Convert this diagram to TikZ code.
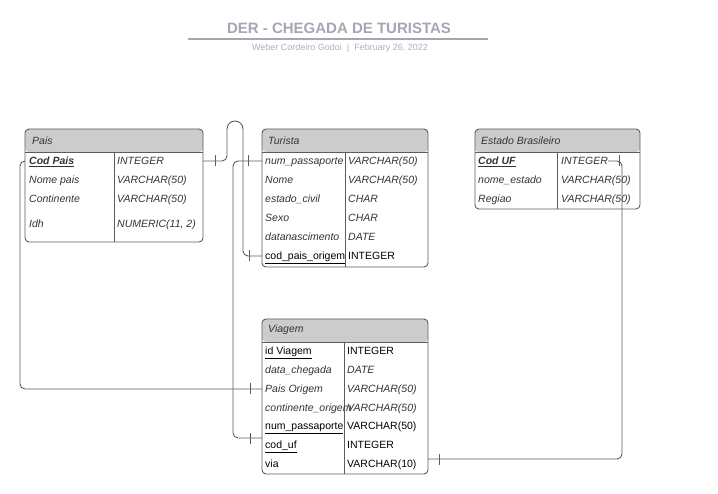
\documentclass[tikz,border=0pt]{standalone}
\usepackage{fontspec}
\setmainfont{Liberation Sans}
\usetikzlibrary{calc}
\definecolor{hdrgray}{RGB}{204,204,204}
\definecolor{linegray}{RGB}{92,92,92}
\definecolor{titlegray}{RGB}{163,167,177}
\definecolor{subgray}{RGB}{172,175,182}
\definecolor{txtgray}{RGB}{51,51,51}
\tikzset{
  tbl/.style={draw=linegray, line width=0.9pt, rounded corners=4pt, outer sep=0pt, anchor=north west,
    path picture={\fill[hdrgray] (path picture bounding box.north west) rectangle ([yshift=-23pt]path picture bounding box.north east);}},
  sep/.style={draw=linegray, line width=0.9pt},
  hdrtxt/.style={anchor=west, inner sep=0pt, text=txtgray, font=\fontsize{10.5}{12}\selectfont\itshape},
  fld/.style={anchor=west, inner sep=0pt, yshift=-1.2pt, text height=7.6pt, text depth=2.2pt, text=txtgray, font=\fontsize{10.5}{12}\selectfont\itshape},
  fldup/.style={fld, text=black, font=\fontsize{10.5}{12}\selectfont},
  fldkey/.style={fld, font=\fontsize{10.5}{12}\selectfont\bfseries\itshape},
  rel/.style={draw=linegray, line width=0.9pt, rounded corners=5pt},
  tick/.style={draw=linegray, line width=0.9pt},
}
\begin{document}
\begin{tikzpicture}[x=1pt, y=-1pt]
    \useasboundingbox (0,0) rectangle (718,494);
    % title
    \node[text=titlegray, font=\fontsize{15}{18}\selectfont\bfseries] (title) at (339,28) {DER - CHEGADA DE TURISTAS};
    \coordinate (tl) at (188,39);
    \coordinate (tr) at (488,39);
    \draw[titlegray, line width=1.2pt] (tl) -- (tr);
    \node[text=subgray, font=\fontsize{9}{11}\selectfont] (sub) at (340,48) {Weber Cordeiro Godoi~~|~~February 26, 2022};
    % Pais
    \node[tbl, minimum width=178pt, minimum height=113pt] (pais) at (25,129) {};
    \draw[sep] ([yshift=-23pt]pais.north west) -- ([yshift=-23pt]pais.north east);
    \draw[sep] ([xshift=89pt,yshift=-23pt]pais.north west) -- ([xshift=89pt]pais.south west);
    \node[hdrtxt] (ph) at (32,140.5) {Pais};
    \node[fldkey] (pcod) at (29,161) {\underline{Cod Pais}};
    \node[fld] (pcodt) at (117,161) {INTEGER};
    \node[fld] (pnome) at (29,180) {Nome pais};
    \node[fld] (pnomet) at (117,180) {VARCHAR(50)};
    \node[fld] (pcont) at (29,199) {Continente};
    \node[fld] (pcontt) at (117,199) {VARCHAR(50)};
    \node[fld] (pidh) at (29,224) {Idh};
    \node[fld] (pidht) at (117,224) {NUMERIC(11, 2)};
    % Turista
    \node[tbl, minimum width=166pt, minimum height=138pt] (turista) at (262,129) {};
    \draw[sep] ([yshift=-23pt]turista.north west) -- ([yshift=-23pt]turista.north east);
    \draw[sep] ([xshift=83pt,yshift=-23pt]turista.north west) -- ([xshift=83pt]turista.south west);
    \node[hdrtxt] (th) at (268,140.5) {Turista};
    \node[fld] (tnum) at (265,161) {num\_passaporte};
    \node[fld] (tnumt) at (348,161) {VARCHAR(50)};
    \node[fld] (tnome) at (265,180) {Nome};
    \node[fld] (tnomet) at (348,180) {VARCHAR(50)};
    \node[fld] (testc) at (265,199) {estado\_civil};
    \node[fld] (testct) at (348,199) {CHAR};
    \node[fld] (tsexo) at (265,218) {Sexo};
    \node[fld] (tsexot) at (348,218) {CHAR};
    \node[fld] (tdata) at (265,237) {datanascimento};
    \node[fld] (tdatat) at (348,237) {DATE};
    \node[fldup] (tcpo) at (265,256) {\underline{cod\_pais\_origem}};
    \node[fldup] (tcpot) at (348,256) {INTEGER};
    % Estado Brasileiro
    \node[tbl, minimum width=165pt, minimum height=80pt] (estado) at (475,129) {};
    \draw[sep] ([yshift=-23pt]estado.north west) -- ([yshift=-23pt]estado.north east);
    \draw[sep] ([xshift=82pt,yshift=-23pt]estado.north west) -- ([xshift=82pt]estado.south west);
    \node[hdrtxt] (eh) at (481,140.5) {Estado Brasileiro};
    \node[fldkey] (ecod) at (478,161) {\underline{Cod UF}};
    \node[fld] (ecodt) at (561,161) {INTEGER};
    \node[fld] (enome) at (478,180) {nome\_estado};
    \node[fld] (enomet) at (561,180) {VARCHAR(50)};
    \node[fld] (ereg) at (478,199) {Regiao};
    \node[fld] (eregt) at (561,199) {VARCHAR(50)};
    % Viagem
    \node[tbl, minimum width=166pt, minimum height=155pt] (viagem) at (262,319) {};
    \draw[sep] ([yshift=-23pt]viagem.north west) -- ([yshift=-23pt]viagem.north east);
    \draw[sep] ([xshift=82pt,yshift=-23pt]viagem.north west) -- ([xshift=82pt]viagem.south west);
    \node[hdrtxt] (vh) at (268,330) {Viagem};
    \node[fldup] (vid) at (265,351) {\underline{id Viagem}};
    \node[fldup] (vidt) at (347,351) {INTEGER};
    \node[fld] (vdata) at (265,370) {data\_chegada};
    \node[fld] (vdatat) at (347,370) {DATE};
    \node[fld] (vpor) at (265,389) {Pais Origem};
    \node[fld] (vport) at (347,389) {VARCHAR(50)};
    \node[fld] (vcont) at (265,408) {continente\_origem};
    \node[fld] (vcontt) at (347,408) {VARCHAR(50)};
    \node[fldup] (vnum) at (265,426) {\underline{num\_passaporte}};
    \node[fldup] (vnumt) at (347,426) {VARCHAR(50)};
    \node[fldup] (vcuf) at (265,445) {\underline{cod\_uf}};
    \node[fldup] (vcuft) at (347,445) {INTEGER};
    \node[fldup] (vvia) at (265,464) {via};
    \node[fldup] (vviat) at (347,464) {VARCHAR(10)};
    % relations
    \coordinate (a1) at (pais.east |- 0,161);
    \coordinate (a2) at (turista.west |- 0,256);
    \draw[rel] (a1) -- (227,161) [rounded corners=8pt] -- (227,121) -- (243,121) [rounded corners=5pt] -- (243,256) -- (a2);
    \draw[tick] ($(a1)+(12.5,-5.5)$) -- ++(0,11);
    \draw[tick] ($(a2)+(-12.5,-5.5)$) -- ++(0,11);
    \coordinate (b1) at (turista.west |- 0,161);
    \coordinate (b2) at (viagem.west |- 0,438);
    \draw[rel] (b1) -- (233,161) -- (233,438) -- (b2);
    \draw[tick] ($(b1)+(-13.5,-5.5)$) -- ++(0,11);
    \draw[tick] ($(b2)+(-12,-5.5)$) -- ++(0,11);
    \coordinate (c1) at (pais.west |- 0,161);
    \coordinate (c2) at (viagem.west |- 0,389);
    \draw[rel] (c1) -- (20,161) -- (20,389) -- (c2);
    \draw[tick] ($(c2)+(-12,-5.5)$) -- ++(0,11);
    \coordinate (d1) at (ecodt.east |- 0,161);
    \coordinate (d2) at (viagem.east |- 0,459);
    \draw[rel] (d1) -- (622,161) -- (622,459) -- (d2);
    \draw[tick] ($(d1)+(11.5,-5.5)$) -- ++(0,11);
    \draw[tick] ($(d2)+(11,-5.5)$) -- ++(0,11);
    %\draw[red] (0,0) grid[step=50] (718,494);
\end{tikzpicture}
\end{document}
